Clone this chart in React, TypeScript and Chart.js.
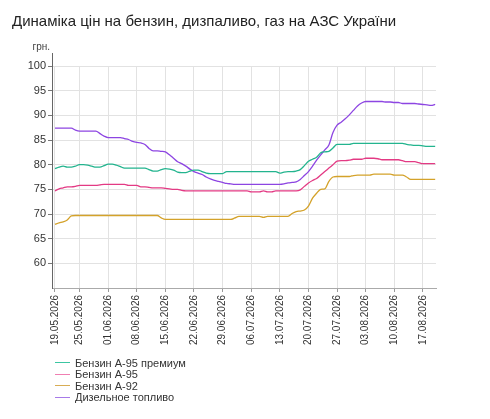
import React, { useEffect, useRef } from "react";
import { Chart, registerables } from "chart.js";

Chart.register(...registerables);

const dates: string[] = [
  "19.05.2026", "20.05.2026", "21.05.2026", "22.05.2026", "23.05.2026", "24.05.2026", "25.05.2026",
  "26.05.2026", "27.05.2026", "28.05.2026", "29.05.2026", "30.05.2026", "31.05.2026",
  "01.06.2026", "02.06.2026", "03.06.2026", "04.06.2026", "05.06.2026", "06.06.2026", "07.06.2026",
  "08.06.2026", "09.06.2026", "10.06.2026", "11.06.2026", "12.06.2026", "13.06.2026", "14.06.2026",
  "15.06.2026", "16.06.2026", "17.06.2026", "18.06.2026", "19.06.2026", "20.06.2026", "21.06.2026",
  "22.06.2026", "23.06.2026", "24.06.2026", "25.06.2026", "26.06.2026", "27.06.2026", "28.06.2026",
  "29.06.2026", "30.06.2026",
  "01.07.2026", "02.07.2026", "03.07.2026", "04.07.2026", "05.07.2026", "06.07.2026", "07.07.2026",
  "08.07.2026", "09.07.2026", "10.07.2026", "11.07.2026", "12.07.2026", "13.07.2026", "14.07.2026",
  "15.07.2026", "16.07.2026", "17.07.2026", "18.07.2026", "19.07.2026", "20.07.2026", "21.07.2026",
  "22.07.2026", "23.07.2026", "24.07.2026", "25.07.2026", "26.07.2026", "27.07.2026", "28.07.2026",
  "29.07.2026", "30.07.2026", "31.07.2026",
  "01.08.2026", "02.08.2026", "03.08.2026", "04.08.2026", "05.08.2026", "06.08.2026", "07.08.2026",
  "08.08.2026", "09.08.2026", "10.08.2026", "11.08.2026", "12.08.2026", "13.08.2026", "14.08.2026",
  "15.08.2026", "16.08.2026", "17.08.2026", "18.08.2026", "19.08.2026", "20.08.2026",
];

const tickDays: number[] = [0, 6, 13, 20, 27, 34, 41, 48, 55, 62, 69, 76, 83, 90];
const yTicks: number[] = [60, 65, 70, 75, 80, 85, 90, 95, 100];

const premium95: number[] = [
  79.2, 79.5, 79.7, 79.5, 79.5, 79.7, 80.0, 80.0, 79.9, 79.7,
  79.5, 79.5, 79.8, 80.1, 80.1, 79.9, 79.6, 79.3, 79.3, 79.3,
  79.3, 79.3, 79.3, 79.0, 78.7, 78.7, 79.0, 79.2, 79.1, 78.9,
  78.5, 78.4, 78.4, 78.7, 78.9, 78.9, 78.6, 78.3, 78.2, 78.2,
  78.2, 78.2, 78.6, 78.6, 78.6, 78.6, 78.6, 78.6, 78.6, 78.6,
  78.6, 78.6, 78.6, 78.6, 78.6, 78.3, 78.5, 78.6, 78.6, 78.7,
  79.0, 79.8, 80.7, 81.1, 81.5, 82.4, 82.6, 82.7, 83.4, 84.1,
  84.1, 84.1, 84.1, 84.3, 84.3, 84.3, 84.3, 84.3, 84.3, 84.3,
  84.3, 84.3, 84.3, 84.3, 84.3, 84.3, 84.1, 84.0, 83.9, 83.9,
  83.8, 83.7, 83.7, 83.7,
];

const a95: number[] = [
  74.7, 75.1, 75.3, 75.5, 75.5, 75.6, 75.8, 75.8, 75.8, 75.8,
  75.8, 75.9, 76.0, 76.0, 76.0, 76.0, 76.0, 76.0, 75.8, 75.8,
  75.8, 75.5, 75.5, 75.4, 75.3, 75.3, 75.3, 75.2, 75.1, 75.0,
  75.0, 74.8, 74.7, 74.7, 74.7, 74.7, 74.7, 74.7, 74.7, 74.7,
  74.7, 74.7, 74.7, 74.7, 74.7, 74.7, 74.7, 74.7, 74.5, 74.5,
  74.5, 74.7, 74.5, 74.5, 74.7, 74.7, 74.7, 74.7, 74.7, 74.7,
  74.9, 75.6, 76.3, 76.8, 77.2, 77.9, 78.6, 79.3, 80.0, 80.7,
  80.8, 80.8, 80.9, 81.1, 81.1, 81.1, 81.3, 81.3, 81.3, 81.2,
  81.0, 81.0, 81.0, 81.0, 81.0, 80.8, 80.6, 80.6, 80.6, 80.4,
  80.2, 80.2, 80.2, 80.2,
];

const a92: number[] = [
  67.9, 68.2, 68.4, 68.8, 69.6, 69.7, 69.7, 69.7, 69.7, 69.7,
  69.7, 69.7, 69.7, 69.7, 69.7, 69.7, 69.7, 69.7, 69.7, 69.7,
  69.7, 69.7, 69.7, 69.7, 69.7, 69.7, 69.2, 68.9, 68.9, 68.9,
  68.9, 68.9, 68.9, 68.9, 68.9, 68.9, 68.9, 68.9, 68.9, 68.9,
  68.9, 68.9, 68.9, 68.9, 69.2, 69.5, 69.5, 69.5, 69.5, 69.5,
  69.5, 69.3, 69.5, 69.5, 69.5, 69.5, 69.5, 69.5, 70.1, 70.5,
  70.6, 70.8, 71.6, 73.2, 74.2, 75.0, 75.1, 76.6, 77.5, 77.6,
  77.6, 77.6, 77.6, 77.8, 77.9, 77.9, 77.9, 77.9, 78.1, 78.1,
  78.1, 78.1, 78.1, 77.9, 77.9, 77.9, 77.5, 77.0, 77.0, 77.0,
  77.0, 77.0, 77.0, 77.0,
];

const diesel: number[] = [
  87.4, 87.4, 87.4, 87.4, 87.4, 87.0, 86.8, 86.8, 86.8, 86.8,
  86.8, 86.3, 85.8, 85.5, 85.5, 85.5, 85.5, 85.3, 85.1, 84.7,
  84.5, 84.4, 84.1, 83.3, 82.8, 82.8, 82.7, 82.6, 82.0, 81.3,
  80.6, 80.2, 79.7, 79.1, 78.6, 78.3, 78.0, 77.5, 77.1, 76.8,
  76.6, 76.4, 76.2, 76.1, 76.0, 76.0, 76.0, 76.0, 76.0, 76.0,
  76.0, 76.0, 76.0, 76.0, 76.0, 76.0, 76.1, 76.3, 76.4, 76.5,
  77.0, 77.8, 78.6, 79.7, 80.9, 82.0, 83.0, 84.0, 86.5, 88.0,
  88.6, 89.3, 90.1, 91.0, 91.9, 92.5, 92.8, 92.8, 92.8, 92.8,
  92.8, 92.7, 92.7, 92.6, 92.6, 92.4, 92.4, 92.4, 92.4, 92.3,
  92.2, 92.1, 92.0, 92.2,
];

const seriesNames: string[] = ["Бензин А-95 премиум", "Бензин А-95", "Бензин А-92", "Дизельное топливо"];
const seriesColors: string[] = ["#23b48e", "#e33a84", "#d4a22a", "#8d45e2"];
const legendColors: string[] = ["#3cc6a2", "#f07fb2", "#d8ad55", "#a77ae8"];
const seriesValues: number[][] = [premium95, a95, a92, diesel];

const FONT = "'Liberation Sans', Arial, sans-serif";

export default function App() {
  const canvasRef = useRef<HTMLCanvasElement | null>(null);

  useEffect(() => {
    if (!canvasRef.current) return;
    const axisExtend = {
      id: "axisExtend",
      afterDraw(chart: any) {
        const { ctx, chartArea } = chart;
        ctx.save();
        ctx.strokeStyle = "#666";
        ctx.lineWidth = 1;
        ctx.beginPath();
        const x = Math.round(chartArea.left) + 0.5;
        ctx.moveTo(x, chartArea.top - 13);
        ctx.lineTo(x, chartArea.top);
        ctx.stroke();
        ctx.restore();
      },
    };
    const chart = new Chart(canvasRef.current, {
      type: "line",
      data: {
        datasets: seriesValues.map((vals, si) => ({
          label: seriesNames[si],
          data: vals.map((v, i) => ({ x: i, y: v })),
          borderColor: seriesColors[si],
          backgroundColor: seriesColors[si],
          borderWidth: 1.3,
          pointRadius: 0,
          cubicInterpolationMode: "monotone" as const,
          fill: false,
        })),
      },
      options: {
        animation: false,
        responsive: false,
        maintainAspectRatio: false,
        layout: { padding: { left: 0, right: 54, top: 66, bottom: 0 } },
        plugins: {
          legend: { display: false },
          title: { display: false },
          tooltip: { enabled: false },
        },
        scales: {
          x: {
            type: "linear",
            min: -0.73,
            max: 93.2,
            afterBuildTicks: (scale: any) => {
              scale.ticks = tickDays.map((v) => ({ value: v }));
            },
            afterFit: (scale: any) => {
              scale.height = 131;
            },
            ticks: {
              autoSkip: false,
              minRotation: 90,
              maxRotation: 90,
              padding: 3,
              color: "#333",
              font: { family: FONT, size: 10 },
              callback: (value: any) => dates[Number(value)] ?? "",
            },
            grid: { color: "#e2e2e2", tickLength: 4, tickColor: "#999" },
            border: { color: "#aaa" },
          },
          y: {
            type: "linear",
            min: 55,
            max: 100,
            afterBuildTicks: (scale: any) => {
              scale.ticks = yTicks.map((v) => ({ value: v }));
            },
            afterFit: (scale: any) => {
              scale.width = 52;
            },
            ticks: {
              padding: 2,
              color: "#333",
              font: { family: FONT, size: 11 },
              callback: (value: any) => String(value),
            },
            grid: { color: "#e2e2e2", tickLength: 4, tickColor: "#777" },
            border: { color: "#666" },
          },
        },
      },
      plugins: [axisExtend],
    });
    return () => chart.destroy();
  }, []);

  return (
    <div style={{ position: "absolute", left: 0, top: 0, width: 490, height: 419, background: "#fff", fontFamily: FONT }}>
      <canvas ref={canvasRef} width={490} height={419} style={{ position: "absolute", left: 0, top: 0, width: 490, height: 419 }} />
      <div style={{ position: "absolute", left: 12, top: 12, fontSize: 15, color: "#222", whiteSpace: "nowrap", lineHeight: "18px" }}>
        Динаміка цін на бензин, дизпаливо, газ на АЗС України
      </div>
      <div style={{ position: "absolute", right: 490 - 50, top: 41, fontSize: 10, color: "#444", lineHeight: "12px" }}>грн.</div>
      <div style={{ position: "absolute", left: 55, top: 357 }}>
        {seriesNames.map((name, i) => (
          <div key={name} style={{ display: "flex", alignItems: "center", height: 11.5, fontSize: 11, color: "#333", whiteSpace: "nowrap" }}>
            <span style={{ display: "inline-block", width: 15, height: 1, background: legendColors[i], marginRight: 5 }} />
            <span>{name}</span>
          </div>
        ))}
      </div>
    </div>
  );
}
